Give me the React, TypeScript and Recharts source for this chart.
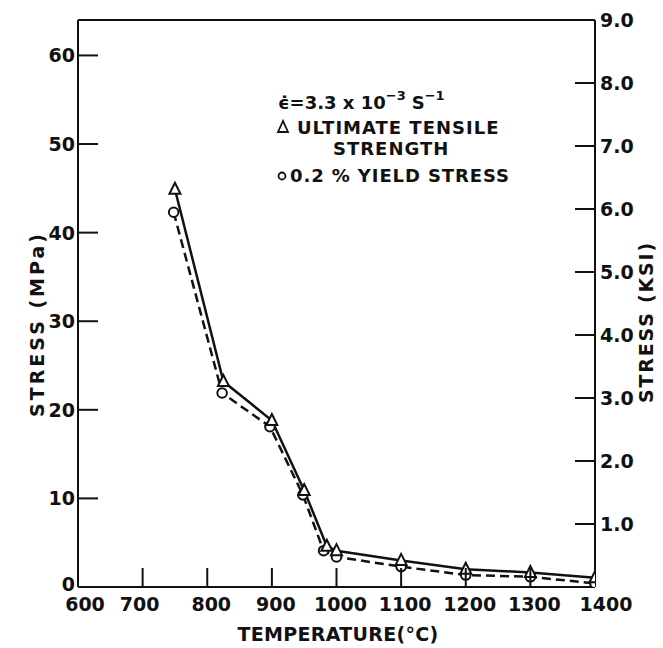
import React from 'react';
import { LineChart, Line, XAxis, YAxis, ReferenceLine } from 'recharts';

// ---- data ----
const utsTemps = [750, 825, 900, 950, 985, 1000, 1100, 1200, 1300, 1400];
const utsMPa = [44.9, 23.2, 18.8, 10.9, 4.6, 4.1, 3.0, 2.0, 1.65, 1.05];
const ysTemps = [748, 823, 897, 948, 980, 1000, 1100, 1200, 1300, 1400];
const ysMPa = [42.3, 21.9, 18.1, 10.4, 4.1, 3.4, 2.3, 1.35, 1.15, 0.4];

const xTicks = [600, 700, 800, 900, 1000, 1100, 1200, 1300, 1400];
const mpaTicks = [0, 10, 20, 30, 40, 50, 60];
const ksiTicks = [1, 2, 3, 4, 5, 6, 7, 8, 9];
const ksiLabels = ['1.0', '2.0', '3.0', '4.0', '5.0', '6.0', '7.0', '8.0', '9.0'];

const utsData = utsTemps.map((t, i) => ({ temp: t, uts: utsMPa[i] }));
const ysData = ysTemps.map((t, i) => ({ temp: t, ys: ysMPa[i] }));

const INK = '#111';
const FONT = '"DejaVu Sans", sans-serif';
const W = 663;
const H = 648;

const tickStyle = { fontFamily: FONT, fontWeight: 700, fontSize: 19, fill: INK } as const;
const labelStyle = { fontFamily: FONT, fontWeight: 700, fontSize: 19, fill: INK } as const;
const legStyle = { fontFamily: FONT, fontWeight: 700, fontSize: 18, fill: INK } as const;

const XTick = (props: any) => {
  const { x, y, payload } = props;
  const v = payload.value;
  const dx = v === 600 ? 7 : v === 700 ? -3 : v === 1400 ? 11 : 4;
  return (
    <g>
      {v !== 600 && v !== 1400 && (
        <line x1={x} y1={y} x2={x} y2={y - 19} stroke={INK} strokeWidth={2} />
      )}
      <text x={x + dx} y={y + 24} textAnchor="middle" style={tickStyle}>
        {v}
      </text>
    </g>
  );
};

const LeftTick = (props: any) => {
  const { x, y, payload } = props;
  const v = payload.value;
  return (
    <g>
      {v !== 0 && <line x1={x} y1={y} x2={x + 20} y2={y} stroke={INK} strokeWidth={2} />}
      <text x={x - 3} y={y + (v === 0 ? 4 : 7)} textAnchor="end" style={tickStyle}>
        {v}
      </text>
    </g>
  );
};

const RightTick = (props: any) => {
  const { x, y, payload } = props;
  const v = payload.value;
  const idx = ksiTicks.indexOf(v);
  return (
    <g>
      {v !== 9 && <line x1={x} y1={y} x2={x - 20} y2={y} stroke={INK} strokeWidth={2} />}
      <text x={x + 5} y={y + 7} textAnchor="start" style={tickStyle}>
        {ksiLabels[idx]}
      </text>
    </g>
  );
};

const TriDot = (props: any) => {
  const { cx, cy, index } = props;
  if (cx == null || cy == null) return <g key={`t${index}`} />;
  return (
    <polygon
      key={`t${index}`}
      points={`${cx},${cy - 6.5} ${cx - 5.5},${cy + 4.5} ${cx + 5.5},${cy + 4.5}`}
      fill="#fff"
      stroke={INK}
      strokeWidth={2}
    />
  );
};

const CircDot = (props: any) => {
  const { cx, cy, index } = props;
  if (cx == null || cy == null) return <g key={`c${index}`} />;
  return <circle key={`c${index}`} cx={cx} cy={cy} r={4.8} fill="#fff" stroke={INK} strokeWidth={2} />;
};

export default function App() {
  return (
    <div style={{ position: 'absolute', left: 0, top: 0, width: W, height: H, background: '#fff' }}>
      <LineChart width={W} height={H} margin={{ top: 20, right: 0, left: 0, bottom: 0 }}>
        <XAxis
          dataKey="temp"
          type="number"
          domain={[600, 1400]}
          ticks={xTicks}
          height={61}
          tickSize={0}
          tickMargin={0}
          tick={XTick}
          axisLine={{ stroke: INK, strokeWidth: 2 }}
          tickLine={false}
          allowDataOverflow
        />
        <YAxis
          yAxisId="l"
          domain={[0, 64]}
          ticks={mpaTicks}
          width={78}
          tickSize={0}
          tickMargin={0}
          tick={LeftTick}
          axisLine={{ stroke: INK, strokeWidth: 2 }}
          tickLine={false}
          allowDataOverflow
        />
        <YAxis
          yAxisId="r"
          orientation="right"
          domain={[0, 9]}
          ticks={ksiTicks}
          width={68}
          tickSize={0}
          tickMargin={0}
          tick={RightTick}
          axisLine={{ stroke: INK, strokeWidth: 2 }}
          tickLine={false}
          allowDataOverflow
        />
        <ReferenceLine yAxisId="l" y={64} stroke={INK} strokeWidth={2} />
        <Line
          yAxisId="l"
          data={ysData}
          dataKey="ys"
          type="linear"
          stroke={INK}
          strokeWidth={2.5}
          strokeDasharray="9 5"
          dot={CircDot}
          activeDot={false}
          isAnimationActive={false}
        />
        <Line
          yAxisId="l"
          data={utsData}
          dataKey="uts"
          type="linear"
          stroke={INK}
          strokeWidth={2.5}
          dot={TriDot}
          activeDot={false}
          isAnimationActive={false}
        />
      </LineChart>
      <svg
        width={W}
        height={H}
        style={{ position: 'absolute', left: 0, top: 0, pointerEvents: 'none' }}
      >
        <text
          transform="translate(37,324) rotate(-90)"
          textAnchor="middle"
          dominantBaseline="central"
          style={{ ...labelStyle, letterSpacing: 3 }}
        >
          STRESS (MPa)
        </text>
        <text
          transform="translate(646,322) rotate(-90)"
          textAnchor="middle"
          dominantBaseline="central"
          style={{ ...labelStyle, letterSpacing: 1.8 }}
        >
          STRESS (KSI)
        </text>
        <text x={338} y={641} textAnchor="middle" style={{ ...labelStyle, letterSpacing: 0.3 }}>
          TEMPERATURE(°C)
        </text>
        <text x={278} y={109} style={legStyle}>
          <tspan>ϵ̇=3.3 x 10</tspan>
          <tspan dy={-9} fontSize={13}>−3</tspan>
          <tspan dy={9} dx={6}>S</tspan>
          <tspan dy={-9} fontSize={13}>−1</tspan>
        </text>
        <polygon points="283,121 278,132 288,132" fill="none" stroke={INK} strokeWidth={1.8} />
        <text x={297} y={134} style={{ ...legStyle, letterSpacing: 1 }}>
          ULTIMATE TENSILE
        </text>
        <text x={333} y={155} style={{ ...legStyle, letterSpacing: 1 }}>
          STRENGTH
        </text>
        <circle cx={282} cy={176} r={3.5} fill="none" stroke={INK} strokeWidth={1.8} />
        <text x={290} y={182} style={{ ...legStyle, letterSpacing: 0.9 }}>
          0.2 % YIELD STRESS
        </text>
      </svg>
    </div>
  );
}
